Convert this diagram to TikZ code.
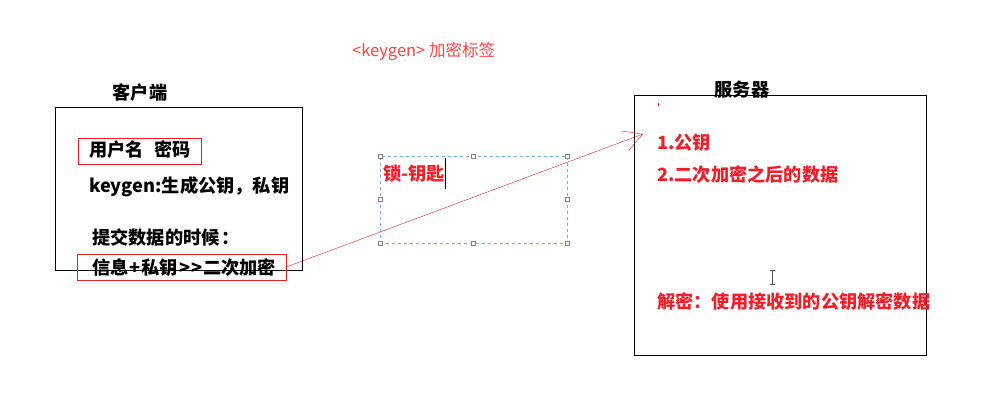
\documentclass[tikz,border=0pt]{standalone}
\usepackage{fontspec}
\newfontfamily\cjk{Noto Sans CJK SC}
\usetikzlibrary{positioning,arrows.meta}
\definecolor{markred}{RGB}{240,30,40}
\definecolor{tagred}{RGB}{250,70,70}
\definecolor{selblue}{RGB}{110,175,240}

\begin{document}
\begin{tikzpicture}[x=1pt, y=-1pt,
    box/.style={rectangle, draw=black, thin, inner sep=0pt},
    redbox/.style={rectangle, draw=markred, thin, inner sep=0pt},
    txt/.style={anchor=west, inner sep=0pt, font=\cjk\bfseries\fontsize{18.2}{21}\selectfont},
    redtxt/.style={txt, text=markred},
    handle/.style={rectangle, draw=gray, fill=white, minimum size=4pt, inner sep=0pt},
    sendline/.style={-{Straight Barb[length=18pt,width=20pt]}, markred, thin}
]
\useasboundingbox (0,0) rectangle (998,406);

% Tag label
\node[anchor=west, inner sep=0pt, text=tagred, font=\cjk\fontsize{16.5}{19}\selectfont] (tag) at (352,52) {<keygen> 加密标签};

% Client
\node[box, minimum width=247pt, minimum height=163pt] (client) at (178.5,188.5) {};
\node[txt, anchor=center] (clienttitle) at (140,93) {客户端};
\node[redbox, minimum width=123pt, minimum height=26pt] (userbox) at (139.5,151) {};
\node[txt] (user) at (89,150) {用户名\hspace{11pt}密码};
\node[txt] (keygen) at (89,187) {keygen:生成公钥，私钥};
\node[txt] (submit) at (92,238) {提交数据的时候\hspace{2pt}：};
\node[redbox, minimum width=209pt, minimum height=26pt] (msgbox) at (181.5,267) {};
\node[txt] (msg) at (92,268) {信息\hspace{1pt}+\hspace{1pt}私钥\hspace{1pt}>\hspace{1pt}>\hspace{1pt}二次加密};

% Selected text box
\node[rectangle, draw=selblue, dashed, minimum width=187pt, minimum height=87pt, inner sep=0pt] (lockbox) at (473.5,199.5) {};
\foreach \a in {north west,north,north east,west,east,south west,south,south east}
  \node[handle] at (lockbox.\a) {};
\node[redtxt] (lock) at (383,174) {锁-钥匙};
\draw[black, thin] (445,158) -- (445,189);

% Server
\node[box, minimum width=292pt, minimum height=260pt] (server) at (780,225) {};
\node[txt, anchor=center] (servertitle) at (742,90) {服务器};
\draw[markred, thin] (658,103) -- (658,106);
\node[redtxt] (pubkey) at (657,143) {1.公钥};
\node[redtxt] (data) at (657,175) {2.二次加密之后的数据};
\node[redtxt] (decrypt) at (657,302) {解密：使用接收到的公钥解密数据};
\draw[gray!60!black, thin] (772,270) -- (772,284) (769.5,270) -- (774.5,270) (769.5,284) -- (774.5,284);

% Send arrow
\coordinate (tip) at (643,134);
\draw[sendline] (msgbox.east) -- (tip);

\end{tikzpicture}
\end{document}
